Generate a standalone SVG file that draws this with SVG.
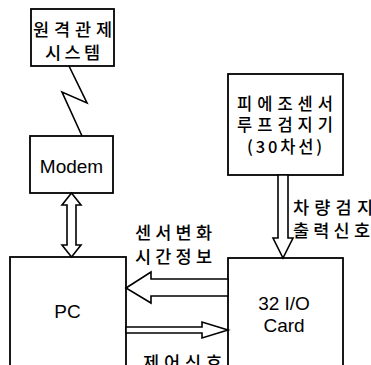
<svg xmlns="http://www.w3.org/2000/svg" width="371" height="365" viewBox="0 0 371 365">
<style>
.box{fill:#fff;stroke:#000;stroke-width:1.8}
.arr{fill:#fff;stroke:#000;stroke-width:1.6;stroke-linejoin:miter}
.ln{fill:none;stroke:#000;stroke-width:1.6}
.kr{font-family:"Noto Sans CJK KR","Noto Sans",sans-serif;font-size:17.5px;font-weight:500;fill:#000}
.sm{font-size:16.5px}
.en{font-family:"Liberation Sans",Arial,sans-serif;font-size:19px;fill:#000}
</style>
<rect width="371" height="365" fill="#fff"/>
<g id="remote">
<rect class="box" x="31" y="9" width="83" height="57"/>
<text class="kr" x="33" y="35.5" textLength="79" lengthAdjust="spacing">원격관제</text>
<text class="kr" x="45" y="58.5" textLength="55" lengthAdjust="spacing">시스템</text>
</g>
<g id="modem">
<rect class="box" x="30" y="136" width="83" height="57"/>
<text class="en" x="71.5" y="173" text-anchor="middle">Modem</text>
</g>
<g id="pc">
<rect class="box" x="10" y="257" width="116" height="130"/>
<text class="en" x="67.5" y="318" text-anchor="middle">PC</text>
</g>
<g id="sensor">
<rect class="box" x="228" y="74" width="115" height="101"/>
<text class="kr sm" x="237" y="110" textLength="96" lengthAdjust="spacing">피에조센서</text>
<text class="kr sm" x="237" y="131" textLength="96" lengthAdjust="spacing">루프검지기</text>
<text class="kr sm" x="247" y="153" textLength="75" lengthAdjust="spacing">(30차선)</text>
</g>
<g id="card">
<rect class="box" x="228" y="258" width="115" height="130"/>
<text class="en" x="284" y="310" text-anchor="middle">32 I/O</text>
<text class="en" x="284" y="332" text-anchor="middle">Card</text>
</g>
<g id="connectors">
<polyline class="ln" points="69,66 87,103 62,92 82,136"/>
<polygon class="arr" points="71.5,193 62,205 67,205 67,245 62,245 71.5,257 81,245 76,245 76,205 81,205"/>
<polygon class="arr" points="278,175 278,238 273,238 283,258 293,238 288,238 288,175"/>
<polygon class="arr" points="126,288 151,272 151,279 228,279 228,296 151,296 151,303"/>
<polygon class="arr" points="126,327 202,327 202,322 228,330 202,338 202,333 126,333"/>
</g>
<g id="labels">
<text class="kr" x="135" y="239" textLength="77" lengthAdjust="spacing">센서변화</text>
<text class="kr" x="135" y="263" textLength="77" lengthAdjust="spacing">시간정보</text>
<text class="kr" x="293" y="214" textLength="80" lengthAdjust="spacing">차량검지</text>
<text class="kr" x="293" y="237" textLength="77" lengthAdjust="spacing">출력신호</text>
<text class="kr" x="143" y="369" textLength="79" lengthAdjust="spacing">제어신호</text>
</g>
</svg>
